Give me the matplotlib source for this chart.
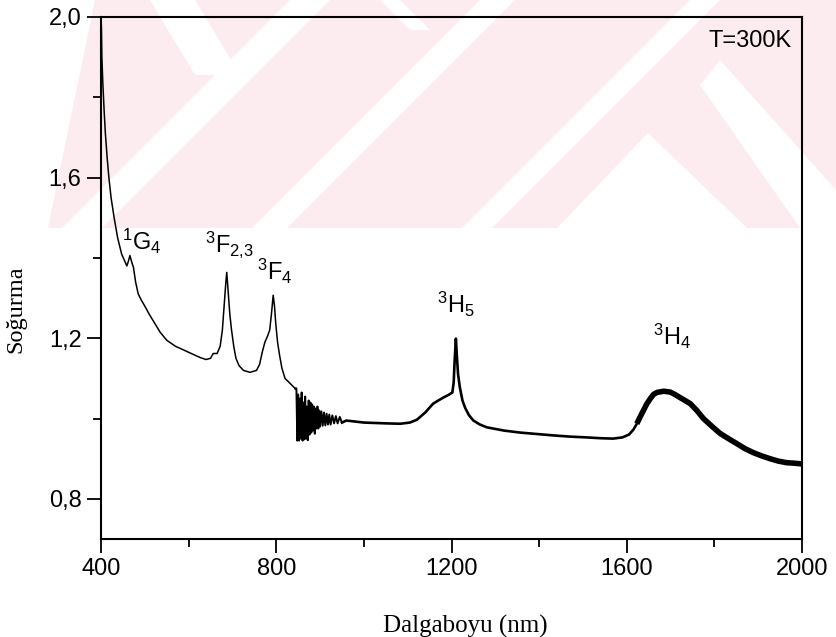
import numpy as np
import matplotlib
matplotlib.use('Agg')
import matplotlib.pyplot as plt
from matplotlib.patches import Polygon
from matplotlib.ticker import MultipleLocator, FuncFormatter

plt.rcParams['font.family'] = ['Liberation Sans', 'DejaVu Sans']
plt.rcParams['mathtext.fontset'] = 'custom'
plt.rcParams['mathtext.rm'] = 'Liberation Sans'
plt.rcParams['mathtext.it'] = 'Liberation Sans'

# absorption spectrum, smooth part (UV-vis detector)
wl_vis = [400, 401, 402, 404, 407, 410, 414, 418, 423, 430, 438, 447, 455, 459, 462,
          466, 470, 474, 479, 485, 492, 500, 510, 520, 535, 550, 570, 590, 610, 626,
          640, 650, 656, 665, 672, 677, 681, 685, 687, 690, 694, 698, 703, 708, 715,
          725, 740, 755, 762, 768, 774, 780, 785, 789, 793, 796, 799, 803, 808, 813,
          820, 832, 843]
abs_vis = [2.0, 1.97, 1.9, 1.84, 1.77, 1.71, 1.65, 1.60, 1.55, 1.50, 1.45, 1.41, 1.39,
           1.38, 1.39, 1.406, 1.39, 1.377, 1.34, 1.31, 1.295, 1.28, 1.26, 1.242, 1.215,
           1.195, 1.18, 1.17, 1.16, 1.152, 1.147, 1.15, 1.162, 1.162, 1.18, 1.22, 1.28,
           1.34, 1.364, 1.32, 1.26, 1.22, 1.18, 1.15, 1.132, 1.12, 1.115, 1.12, 1.135,
           1.165, 1.19, 1.205, 1.22, 1.26, 1.307, 1.28, 1.235, 1.19, 1.155, 1.125, 1.1,
           1.087, 1.075]

# detector change-over, noisy stretch
wl_sw = [846, 848, 850, 852, 854, 856, 858, 860, 862, 864, 866, 868, 870, 872, 874,
         876, 878, 880, 882, 884, 886, 888, 890, 892, 894, 896, 898, 900, 903, 906,
         909, 912, 915, 918, 921, 924, 928, 932, 936, 940, 945, 950]
abs_sw = [1.075, 0.945, 1.06, 0.945, 1.05, 0.95, 1.065, 0.945, 1.04, 0.948, 1.055,
          0.95, 1.03, 0.946, 1.045, 0.96, 1.04, 0.965, 1.035, 0.97, 1.03, 0.962,
          1.025, 0.975, 1.03, 0.975, 1.02, 0.98, 1.018, 0.982, 1.015, 0.983, 1.012,
          0.985, 1.01, 0.985, 1.008, 0.988, 1.006, 0.988, 1.004, 0.99]

# NIR part
wl_nir = [960, 1000, 1050, 1083, 1105, 1121, 1140, 1158, 1170, 1181, 1195, 1202, 1205,
          1207, 1210, 1212, 1215, 1219, 1225, 1231, 1240, 1250, 1265, 1281, 1320, 1357,
          1400, 1432, 1470, 1509, 1540, 1569, 1590, 1605, 1615, 1623]
abs_nir = [0.995, 0.99, 0.988, 0.987, 0.99, 0.997, 1.015, 1.037, 1.045, 1.052, 1.06,
           1.065, 1.09, 1.14, 1.199, 1.16, 1.11, 1.078, 1.045, 1.027, 1.008, 0.995,
           0.985, 0.978, 0.97, 0.965, 0.961, 0.958, 0.955, 0.953, 0.951, 0.95, 0.953,
           0.96, 0.972, 0.987]

# 3H4 band, noisier tail
wl_h4 = [1623, 1630, 1638, 1646, 1654, 1661, 1669, 1684, 1699, 1710, 1722, 1733, 1745,
         1760, 1775, 1795, 1813, 1832, 1852, 1870, 1889, 1908, 1927, 1946, 1965, 1980,
         2000]
abs_h4 = [0.987, 1.003, 1.02, 1.037, 1.05, 1.06, 1.065, 1.068, 1.066, 1.06, 1.052,
          1.045, 1.037, 1.02, 1.0, 0.98, 0.963, 0.95, 0.937, 0.925, 0.915, 0.907, 0.9,
          0.894, 0.89, 0.889, 0.887]

labels = [r'$^{1}\mathrm{G}_{4}$', r'$^{3}\mathrm{F}_{2{,}3}$', r'$^{3}\mathrm{F}_{4}$',
          r'$^{3}\mathrm{H}_{5}$', r'$^{3}\mathrm{H}_{4}$']
label_x = [447, 637, 756, 1167, 1660]
label_y = [1.419, 1.414, 1.344, 1.264, 1.182]

W, H = 836, 637
fig = plt.figure(figsize=(W / 100, H / 100), dpi=100)

# faint background stamp behind the plot
pink = '#fcecef'
def px(pts):
    return [(x / W, 1 - y / H) for x, y in pts]

fig.patches.append(Polygon(px([(48, 228), (95, 0), (836, 0), (836, 228)]),
                           closed=True, transform=fig.transFigure, fc=pink, ec='none', zorder=0))
white_parts = [
    [(150, 0), (195, 0), (240, 75), (195, 75)],
    [(290, 0), (330, 0), (102, 228), (62, 228)],
    [(480, 0), (515, 0), (287, 228), (252, 228)],
    [(380, 0), (400, 0), (430, 30), (410, 30)],
    [(690, 0), (720, 0), (492, 228), (462, 228)],
    [(648, 133), (747, 228), (557, 228)],
    [(720, 60), (836, 190), (836, 228), (800, 228), (700, 85)],
]
for poly in white_parts:
    fig.patches.append(Polygon(px(poly), closed=True, transform=fig.transFigure,
                               fc='white', ec='none', zorder=0.5))

ax = fig.add_axes([101 / W, 1 - 539 / H, 701 / W, 522 / H])
ax.set_zorder(2)
ax.patch.set_visible(False)

ax.plot(wl_vis, abs_vis, color='black', lw=1.1)
ax.plot([wl_vis[-1]] + wl_sw, [abs_vis[-1]] + abs_sw, color='black', lw=1.4)
ax.plot([wl_sw[-1]] + wl_nir, [abs_sw[-1]] + abs_nir, color='black', lw=1.9)
ax.plot(wl_h4, abs_h4, color='black', lw=4.0, solid_capstyle='butt')

for lab, x, y in zip(labels, label_x, label_y):
    ax.text(x, y, lab, fontsize=17, ha='left', va='baseline')

ax.text(0.985, 0.975, 'T=300K', transform=ax.transAxes, ha='right', va='top', fontsize=17)

ax.set_xlim(400, 2000)
ax.set_ylim(0.7, 2.0)
ax.xaxis.set_major_locator(MultipleLocator(400))
ax.xaxis.set_minor_locator(MultipleLocator(200))
ax.yaxis.set_minor_locator(MultipleLocator(0.2))
ax.set_yticks([0.8, 1.2, 1.6, 2.0])
ax.yaxis.set_major_formatter(FuncFormatter(lambda v, p: f'{v:.1f}'.replace('.', ',')))
ax.tick_params(which='major', direction='out', length=10, width=1.3, labelsize=17, pad=4)
ax.tick_params(which='minor', direction='out', length=6, width=1.3)
for s in ax.spines.values():
    s.set_linewidth(1.5)

ax.set_xlabel('Dalgaboyu (nm)', family='Liberation Serif', fontsize=18)
ax.set_ylabel('Soğurma', family='Liberation Serif', fontsize=17.5)
ax.xaxis.set_label_coords(0.52, -0.145)
ax.yaxis.set_label_coords(-0.107, 0.44)

fig.savefig('out.png', dpi=100)
